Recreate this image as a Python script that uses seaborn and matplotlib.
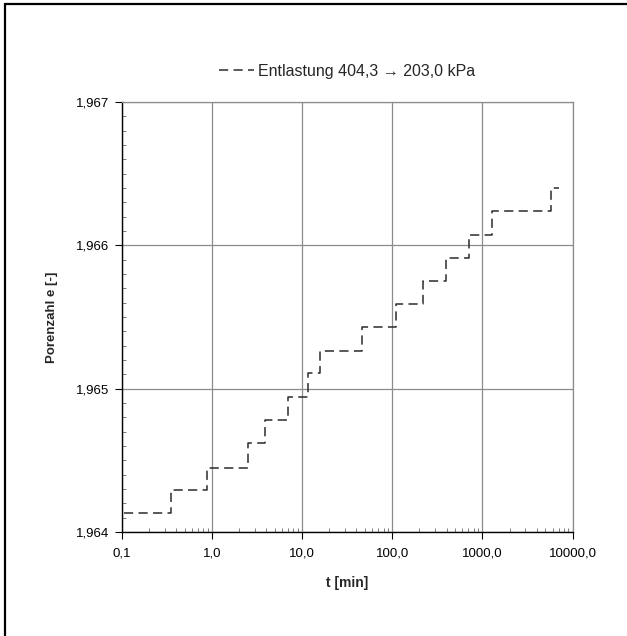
import matplotlib
matplotlib.use("Agg")
import matplotlib.pyplot as plt
from matplotlib.lines import Line2D
from matplotlib.ticker import FixedLocator, MultipleLocator, LogLocator, NullFormatter
import seaborn as sns
import pandas as pd

# Consolidation readings during unloading (time in minutes, void ratio)
t_min = [0.105, 0.35, 0.88, 2.51, 3.86, 6.9, 11.6, 15.7, 46.4, 110, 221, 392, 711, 1292, 5750, 7170]
void_ratio = [1.96413, 1.96429, 1.96445, 1.96462, 1.96478, 1.96494, 1.96511, 1.96526,
              1.96543, 1.96559, 1.96575, 1.96591, 1.96607, 1.96624, 1.96640, 1.96640]
x_ticks = [0.1, 1, 10, 100, 1000, 10000]
x_tick_labels = ["0,1", "1,0", "10,0", "100,0", "1000,0", "10000,0"]
y_ticks = [1.964, 1.965, 1.966, 1.967]
y_tick_labels = ["1,964", "1,965", "1,966", "1,967"]
series_name = "Entlastung 404,3 \u2192 203,0 kPa"

df = pd.DataFrame({"t": t_min, "e": void_ratio})

sns.set_theme(style="white")
plt.rcParams["font.family"] = ["Liberation Sans", "DejaVu Sans"]

fig = plt.figure(figsize=(6.27, 6.36), dpi=100)
ax = fig.add_axes([122 / 627, 1 - 532 / 636, (572.5 - 122) / 627, (532 - 102) / 636])

sns.lineplot(data=df, x="t", y="e", ax=ax, estimator=None, sort=False,
             drawstyle="steps-post", color="#2b2b2b", linewidth=1.1,
             label=series_name)
ax.lines[0].set_dashes([6, 3.5])

ax.set_xscale("log")
ax.set_xlim(0.1, 10000)
ax.set_ylim(1.964, 1.967)

ax.xaxis.set_major_locator(FixedLocator(x_ticks))
ax.set_xticklabels(x_tick_labels)
ax.xaxis.set_minor_locator(LogLocator(base=10, subs=range(2, 10)))
ax.xaxis.set_minor_formatter(NullFormatter())
ax.yaxis.set_major_locator(FixedLocator(y_ticks))
ax.set_yticklabels(y_tick_labels)
ax.yaxis.set_minor_locator(MultipleLocator(0.0001))

ax.tick_params(which="major", direction="out", length=5, width=0.8, color="black",
               labelsize=9.5, labelcolor="black", pad=4)
ax.tick_params(axis="x", which="major", pad=6)
ax.tick_params(which="minor", direction="in", length=3, width=0.6, color="#666666")
ax.tick_params(axis="x", which="both", bottom=True)
ax.tick_params(axis="y", which="both", left=True)

ax.grid(True, which="major", color="#8c8c8c", linewidth=0.9)
ax.grid(False, which="minor")

for side in ("left", "bottom"):
    ax.spines[side].set_color("black")
    ax.spines[side].set_linewidth(1.0)
for side in ("top", "right"):
    ax.spines[side].set_color("#8c8c8c")
    ax.spines[side].set_linewidth(0.9)

ax.set_xlabel("t [min]", fontsize=10, fontweight="bold", labelpad=12)
ax.set_ylabel("Porenzahl e [-]", fontsize=9.5, fontweight="bold", labelpad=13)

leg = ax.legend(loc="center", bbox_to_anchor=(0.5, 1 + (102 - 71.5) / 430),
                frameon=False, fontsize=11.5, handlelength=2.2, handletextpad=0.25,
                borderpad=0)

# Outer frame along the top and left edges of the figure
fig.add_artist(Line2D([4.5 / 627, 4.5 / 627], [0, 1 - 4 / 636], transform=fig.transFigure,
                      color="black", linewidth=1.6))
fig.add_artist(Line2D([4.5 / 627, 1], [1 - 4 / 636, 1 - 4 / 636], transform=fig.transFigure,
                      color="black", linewidth=1.6))

fig.savefig("out.png", dpi=100)
